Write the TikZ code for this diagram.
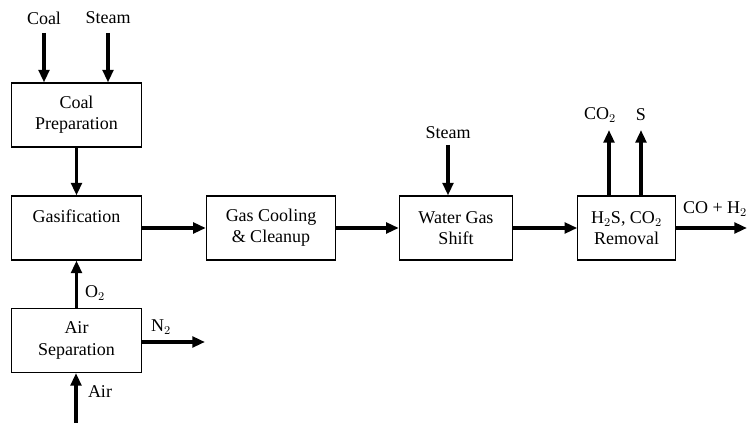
\documentclass[tikz,border=0pt]{standalone}
\usepackage{fontspec}
\setmainfont{Liberation Serif}
\usetikzlibrary{arrows.meta,positioning,calc}

\begin{document}
\begin{tikzpicture}[
    x=0.75pt, y=-0.75pt,
    font=\fontsize{13.5}{16}\selectfont,
    >={Triangle[length=9.5pt,width=8pt]},
    unit/.style={draw, line width=0.8pt, rectangle, align=center, inner sep=1pt},
    flow/.style={->, line width=2.4pt},
    lbl/.style={inner sep=1pt}
  ]
  \useasboundingbox (0,0) rectangle (747,423);

  % 左侧：煤处理、气化、空分
  \node[unit, minimum width=97pt, minimum height=48pt] (prep) at (76.5,115) {Coal\\Preparation};
  \node[unit, minimum width=97pt, minimum height=48pt] (gas) at (76.5,228) {Gasification\\[2pt]{}};
  \node[unit, minimum width=97pt, minimum height=48pt] (asu) at (76.5,340.5) {Air\\Separation};

  \node[lbl] (coal) at (44,18) {Coal};
  \node[lbl] (steam1) at (108,18) {Steam};
  \coordinate (coalin) at (44,33);
  \coordinate (steamin) at (108,33);
  \coordinate (airin) at (76,423);
  \coordinate (n2out) at (205,342);

  \draw[flow] (coalin) -- (coalin |- prep.north);
  \draw[flow] (steamin) -- (steamin |- prep.north);
  \draw[flow] (prep.south) -- (gas.north);
  \draw[flow] (asu.north) -- (gas.south);
  \draw[flow] (airin) -- (airin |- asu.south);
  \draw[flow] (asu.east |- n2out) -- (n2out);

  \node[lbl] (o2) at (95,293) {O$_2$};
  \node[lbl] (n2) at (161,327) {N$_2$};
  \node[lbl] (air) at (100,392) {Air};

  % 主流程
  \node[unit, minimum width=97pt, minimum height=48pt] (cool) at (271,228) {Gas Cooling\\\& Cleanup};
  \node[unit, minimum width=85pt, minimum height=48pt] (shift) at (456,228) {Water Gas\\Shift};
  \node[unit, minimum width=73pt, minimum height=48pt] (rem) at (626.5,228) {H$_2$S, CO$_2$\\Removal};

  \node[lbl] (steam2) at (448,133) {Steam};
  \coordinate (steamin2) at (448,145);
  \coordinate (co2out) at (609,130);
  \coordinate (sout) at (641,130);
  \coordinate (syngas) at (747,228);

  \draw[flow] (gas) -- (cool);
  \draw[flow] (cool) -- (shift);
  \draw[flow] (shift) -- (rem);
  \draw[flow] (steamin2) -- (steamin2 |- shift.north);
  \draw[flow] (co2out |- rem.north) -- (co2out);
  \draw[flow] (sout |- rem.north) -- (sout);
  \draw[flow] (rem) -- (syngas);

  \node[lbl] (co2) at (600,115) {CO$_2$};
  \node[lbl] (s) at (641,115) {S};
  \node[lbl] (prod) at (715,209) {CO + H$_2$};
\end{tikzpicture}
\end{document}
